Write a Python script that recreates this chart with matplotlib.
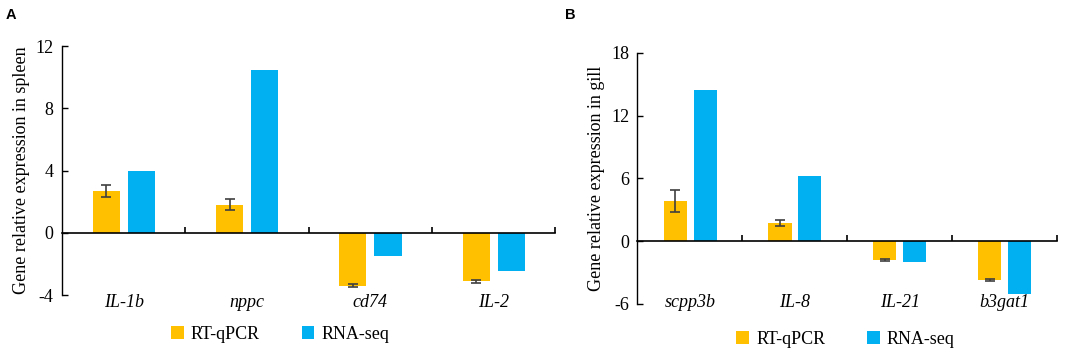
import matplotlib
matplotlib.use("Agg")
import matplotlib.pyplot as plt
import matplotlib.transforms as mtransforms
import numpy as np

plt.rcParams.update({
    "font.family": "Liberation Serif",
    "font.size": 13,
    "axes.unicode_minus": False,
})

# ── data ──
genes_a = ["IL-1b", "nppc", "cd74", "IL-2"]
rt_a = [2.7, 1.8, -3.4, -3.12]
rt_err_a = [0.4, 0.35, 0.1, 0.08]
seq_a = [4.0, 10.45, -1.5, -2.44]

genes_b = ["scpp3b", "IL-8", "IL-21", "b3gat1"]
rt_b = [3.8, 1.75, -1.8, -3.7]
rt_err_b = [1.05, 0.3, 0.1, 0.12]
seq_b = [14.4, 6.2, -2.03, -5.03]

C_RT = "#FFC000"
C_SEQ = "#00B0F0"
C_ERR = "#404040"

fig = plt.figure(figsize=(10.84, 3.55), dpi=100)
ax_a = fig.add_axes([0.0572, 0.169, 0.4548, 0.701])
ax_b = fig.add_axes([0.588, 0.1437, 0.387, 0.7079])


def panel(ax, genes, rt, rt_err, seq, ylim, yticks, ylabel, leg_xy):
    x = np.arange(len(genes))
    w = 0.22
    ax.bar(x - 0.14, rt, w, color=C_RT, label="RT-qPCR", zorder=2)
    ax.errorbar(x - 0.14, rt, yerr=rt_err, fmt="none", ecolor=C_ERR,
                elinewidth=1.2, capsize=3.5, capthick=1.2, zorder=3)
    ax.bar(x + 0.145, seq, w, color=C_SEQ, label="RNA-seq", zorder=2)

    ax.set_xlim(-0.5, len(genes) - 0.5)
    ax.set_ylim(*ylim)
    ax.set_yticks(yticks)
    ax.tick_params(axis="y", direction="in", length=4, width=1, pad=6)

    for s in ["top", "right"]:
        ax.spines[s].set_visible(False)
    ax.spines["left"].set_linewidth(1)
    ax.spines["bottom"].set_position(("data", 0))
    ax.spines["bottom"].set_linewidth(1.2)
    ax.spines["bottom"].set_zorder(4)

    # category boundary ticks on the zero line
    ax.set_xticks(np.arange(len(genes)) + 0.5)
    ax.tick_params(axis="x", direction="in", length=4, width=1.2,
                   labelbottom=False)

    # gene names sit in a row just below the plots
    trans = mtransforms.blended_transform_factory(ax.transData, fig.transFigure)
    for xi, g in zip(x, genes):
        ax.text(xi, 0.148, g, transform=trans, ha="center", va="center",
                style="italic", fontsize=13)

    ax.set_ylabel(ylabel, fontsize=13, labelpad=4)

    ax.legend(loc="center", bbox_to_anchor=leg_xy,
              bbox_transform=fig.transFigure, ncol=2, frameon=False,
              handlelength=0.7, handleheight=0.7, handletextpad=0.4,
              columnspacing=2.3, fontsize=13)


panel(ax_a, genes_a, rt_a, rt_err_a, seq_a, (-4, 12), [-4, 0, 4, 8, 12],
      "Gene relative expression in spleen", (0.2585, 0.058))
panel(ax_b, genes_b, rt_b, rt_err_b, seq_b, (-6, 18), [-6, 0, 6, 12, 18],
      "Gene relative expression in gill", (0.780, 0.045))

fig.text(0.005, 0.978, "A", fontsize=10.5, fontweight="bold",
         family="Liberation Sans", va="top")
fig.text(0.521, 0.978, "B", fontsize=10.5, fontweight="bold",
         family="Liberation Sans", va="top")

fig.savefig("out.png", dpi=100)
